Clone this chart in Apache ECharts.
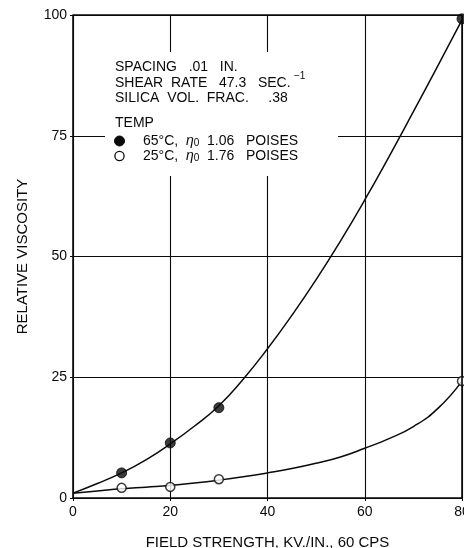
<!DOCTYPE html>
<html>
<head>
<meta charset="utf-8">
<script src="https://cdn.jsdelivr.net/npm/echarts@6/dist/echarts.min.js"></script>
<style>
html,body{margin:0;padding:0;background:#fff;}
#c{width:464px;height:548px;}
</style>
</head>
<body>
<div id="c"></div>
<script>
// Fitted curve readings (every 5 kV/in.)
var curveX = [0, 5, 10, 15, 20, 25, 30, 35, 40, 45, 50, 55, 60, 65, 70, 75, 80];
var curveHot = [1.0, 3.0, 5.2, 7.9, 11.2, 14.9, 19.1, 24.6, 30.9, 37.8, 45.2, 53.2, 61.7, 70.7, 80.0, 89.4, 99.0];
var curveCold = [1.0, 1.45, 1.9, 2.25, 2.6, 3.1, 3.7, 4.4, 5.2, 6.1, 7.2, 8.5, 10.3, 12.3, 14.8, 18.5, 24.2];
// Measured points
var pointX = [10, 20, 30, 80];
var pointsHot = [5.2, 11.4, 18.7, 99.2];
var pointsCold = [2.1, 2.3, 3.9, 24.2];
var xTicks = [0, 20, 40, 60, 80];
var yTicks = [0, 25, 50, 75, 100];

var FONT = '"Liberation Sans", Arial, sans-serif';
var INK = '#0a0a0a';

function pairs(xs, ys) { return xs.map(function (x, i) { return [x, ys[i]]; }); }

var chart = echarts.init(document.getElementById('c'), null, { renderer: 'canvas' });

var etaRich = {
  eta: { fontStyle: 'italic', fontSize: 14, fontFamily: FONT, fill: INK },
  sub: { fontSize: 10, fontFamily: FONT, fill: INK, padding: [5, 0, 0, 0] }
};
function txt(x, y, s, rich, size) {
  return { type: 'text', left: x, top: y, z: 9,
    style: { text: s, font: (size || 14) + 'px ' + FONT, fill: INK, rich: rich || {} } };
}

chart.setOption({
  backgroundColor: '#fff',
  animation: false,
  grid: { left: 73, top: 15, right: 2, bottom: 50, show: false, containLabel: false, outerBoundsMode: 'none' },
  xAxis: {
    type: 'value', min: 0, max: 80, interval: 20,
    name: 'FIELD STRENGTH, KV./IN., 60 CPS',
    nameLocation: 'middle', nameGap: 37,
    nameTextStyle: { fontFamily: FONT, fontSize: 15, color: INK },
    axisLine: { show: true, lineStyle: { color: INK, width: 1.6 } },
    axisTick: { show: true, length: 3, lineStyle: { color: INK } },
    axisLabel: { fontFamily: FONT, fontSize: 14, color: INK, margin: 7,
      formatter: function (v) { return xTicks.indexOf(v) >= 0 ? String(v) : ''; } },
    splitLine: { show: true, lineStyle: { color: INK, width: 1.1 } }
  },
  yAxis: {
    type: 'value', min: 0, max: 100, interval: 25,
    name: 'RELATIVE VISCOSITY',
    nameLocation: 'middle', nameGap: 43, nameRotate: 90,
    nameTextStyle: { fontFamily: FONT, fontSize: 15, color: INK },
    axisLine: { show: true, lineStyle: { color: INK, width: 1.6 } },
    axisTick: { show: true, length: 3, lineStyle: { color: INK } },
    axisLabel: { fontFamily: FONT, fontSize: 14, color: INK, margin: 6,
      formatter: function (v) { return yTicks.indexOf(v) >= 0 ? String(v) : ''; } },
    splitLine: { show: true, lineStyle: { color: INK, width: 1.1 } }
  },
  series: [
    {
      type: 'line', data: pairs(curveX, curveHot), smooth: 0.5,
      showSymbol: false, lineStyle: { color: INK, width: 1.5 }, z: 3, silent: true
    },
    {
      type: 'line', data: pairs(curveX, curveCold), smooth: 0.5,
      showSymbol: false, lineStyle: { color: INK, width: 1.5 }, z: 3, silent: true
    },
    {
      type: 'scatter', data: pairs(pointX, pointsHot), symbol: 'circle', symbolSize: 10,
      itemStyle: { color: INK, borderColor: INK, borderWidth: 1 }, z: 5
    },
    {
      type: 'scatter', data: pairs(pointX, pointsCold), symbol: 'circle', symbolSize: 9,
      itemStyle: { color: '#fff', borderColor: INK, borderWidth: 1.5 }, z: 5
    }
  ],
  graphic: [
    // frame top and right
    { type: 'line', shape: { x1: 73, y1: 15, x2: 462, y2: 15 }, style: { stroke: INK, lineWidth: 1.6 }, z: 10 },
    { type: 'line', shape: { x1: 462, y1: 15, x2: 462, y2: 498 }, style: { stroke: INK, lineWidth: 1.6 }, z: 10 },
    // white panel behind the annotation (interrupts grid lines)
    { type: 'rect', shape: { x: 105, y: 52, width: 233, height: 124 }, style: { fill: '#fff' }, z: 8 },
    txt(115, 60, 'SPACING   .01   IN.'),
    txt(115, 76, 'SHEAR  RATE   47.3   SEC.'),
    txt(294, 71, '−1', null, 10),
    txt(115, 91, 'SILICA  VOL.  FRAC.     .38'),
    txt(115, 116, 'TEMP'),
    { type: 'circle', shape: { cx: 119.5, cy: 141, r: 5 }, style: { fill: INK, stroke: INK, lineWidth: 1 }, z: 9 },
    { type: 'circle', shape: { cx: 119.5, cy: 156, r: 4.6 }, style: { fill: '#fff', stroke: INK, lineWidth: 1.3 }, z: 9 },
    txt(143, 134, '65°C,  {eta|η}{sub|0}  1.06   POISES', etaRich),
    txt(143, 149, '25°C,  {eta|η}{sub|0}  1.76   POISES', etaRich)
  ]
});
</script>
</body>
</html>
